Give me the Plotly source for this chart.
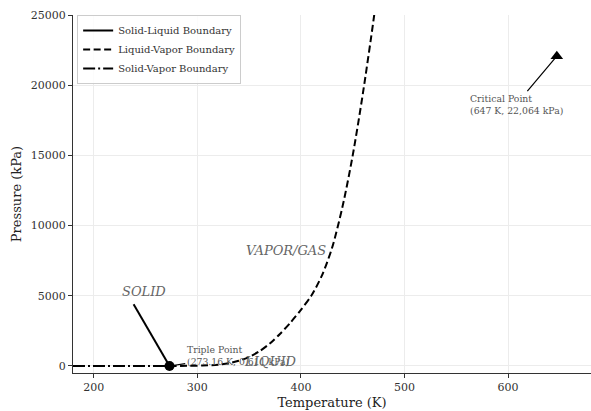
import plotly.graph_objects as go

# Phase boundaries of water (temperature in K, pressure in kPa)
sl_temp = [273.16, 238.5]
sl_pres = [0.611, 4400]

lv_temp = [273.16, 290, 305, 320, 330, 340, 350, 360, 370, 380, 390, 400,
           410, 420, 430, 440, 450, 460, 470, 476]
lv_pres = [0.611, 8, 30, 90, 190, 370, 640, 1050, 1600, 2300, 3100, 4000,
           5000, 6400, 8400, 11300, 15000, 19500, 24600, 28000]

sv_temp = [180, 200, 220, 240, 260, 273.16]
sv_pres = [0.0005, 0.003, 0.03, 0.04, 0.2, 0.611]

triple_temp, triple_pres = 273.16, 0.611
critical_temp, critical_pres = 647, 22064

x_ticks = [200, 300, 400, 500, 600]
y_ticks = [0, 5000, 10000, 15000, 20000, 25000]

FONT = "DejaVu Serif"

fig = go.Figure()
fig.add_trace(go.Scatter(x=sl_temp, y=sl_pres, mode="lines",
                         name="Solid-Liquid Boundary",
                         line=dict(color="black", width=2)))
fig.add_trace(go.Scatter(x=lv_temp, y=lv_pres, mode="lines",
                         name="Liquid-Vapor Boundary",
                         line=dict(color="black", width=2, dash="7px,3.5px",
                                   shape="spline", smoothing=0.8)))
fig.add_trace(go.Scatter(x=sv_temp, y=sv_pres, mode="lines",
                         name="Solid-Vapor Boundary",
                         line=dict(color="black", width=2, dash="12px,3px,2px,3px")))
fig.add_trace(go.Scatter(x=[triple_temp], y=[triple_pres], mode="markers",
                         showlegend=False,
                         marker=dict(color="black", size=10, symbol="circle")))
fig.add_trace(go.Scatter(x=[critical_temp], y=[critical_pres], mode="markers",
                         showlegend=False,
                         marker=dict(color="black", size=11, symbol="triangle-up")))

note_font = dict(family=FONT, size=9.3, color="#555555")
region_font = dict(family=FONT, size=13, color="#666666")

annotations = [
    dict(x=critical_temp, y=critical_pres, ax=608, ay=18650,
         xref="x", yref="y", axref="x", ayref="y",
         text="Critical Point<br>(647 K, 22,064 kPa)", align="left",
         xanchor="center", yanchor="middle", font=note_font,
         showarrow=True, arrowhead=0, arrowwidth=1.2, arrowcolor="black",
         standoff=0),
    dict(x=triple_temp, y=triple_pres, ax=339, ay=720,
         xref="x", yref="y", axref="x", ayref="y",
         text="Triple Point<br>(273.16 K, 0.611 kPa)", align="left",
         xanchor="center", yanchor="middle", font=note_font,
         showarrow=True, arrowhead=0, arrowwidth=1.2, arrowcolor="black",
         standoff=0),
    dict(x=249, y=5300, xref="x", yref="y", text="<i>SOLID</i>",
         showarrow=False, font=region_font),
    dict(x=371, y=320, xref="x", yref="y", text="<i>LIQUID</i>",
         showarrow=False, font=region_font),
    dict(x=386, y=8250, xref="x", yref="y", text="<i>VAPOR/GAS</i>",
         showarrow=False, font=region_font),
]

fig.update_layout(
    width=591, height=411,
    margin=dict(l=73, r=0, t=15, b=38),
    paper_bgcolor="white", plot_bgcolor="white",
    font=dict(family=FONT, color="#333333"),
    annotations=annotations,
    legend=dict(x=0.008, y=1.0, xanchor="left", yanchor="top",
                bgcolor="rgba(255,255,255,0.85)", bordercolor="#cccccc",
                borderwidth=1, font=dict(family=FONT, size=10, color="#333333"),
                itemwidth=30, tracegroupgap=0),
)
fig.update_xaxes(
    range=[180, 680], tickvals=x_ticks, showgrid=True, gridcolor="#ececec",
    showline=True, linecolor="#333333", linewidth=1, ticks="outside",
    ticklen=4, tickcolor="#333333", zeroline=False,
    tickfont=dict(family=FONT, size=11, color="#333333"),
    title=dict(text="Temperature (K)", standoff=4,
               font=dict(family=FONT, size=13, color="#222222")),
)
fig.update_yaxes(
    range=[-500, 25000], tickvals=y_ticks, tickformat="d", showgrid=True,
    gridcolor="#ececec", showline=True, linecolor="#333333", linewidth=1,
    ticks="outside", ticklen=4, tickcolor="#333333", zeroline=False,
    tickfont=dict(family=FONT, size=11, color="#333333"),
    title=dict(text="Pressure (kPa)", standoff=6,
               font=dict(family=FONT, size=13, color="#222222")),
)

fig.write_html("out.html")
